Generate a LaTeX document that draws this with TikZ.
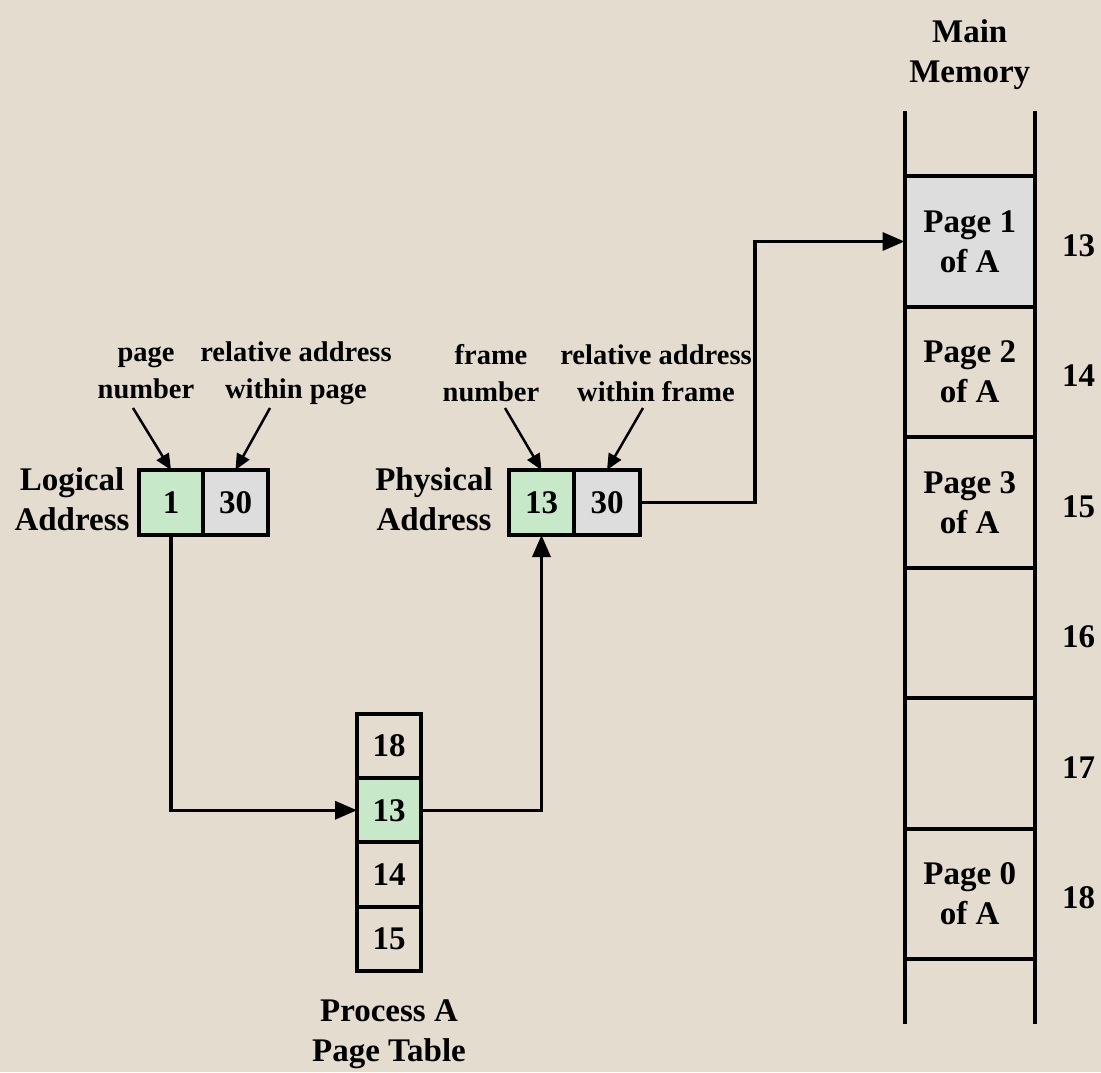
\documentclass[tikz,border=0pt]{standalone}
\usepackage{fontspec}
\setmainfont{Liberation Serif}
\usetikzlibrary{arrows.meta,positioning}
\definecolor{paper}{RGB}{228,220,206}
\definecolor{cellgreen}{RGB}{200,232,202}
\definecolor{cellgray}{RGB}{221,221,221}

\begin{document}
\begin{tikzpicture}[x=1pt, y=-1pt, font=\fontsize{33}{40}\selectfont\bfseries,
  cell/.style={draw, line width=4pt, inner sep=0pt, outer sep=0pt, minimum width=64pt, minimum height=65pt},
  ptcell/.style={draw, line width=4pt, inner sep=0pt, outer sep=0pt, minimum width=64pt, minimum height=64.25pt},
  memframe/.style={draw, line width=4pt, inner sep=0pt, outer sep=0pt, minimum width=130.5pt, minimum height=130.5pt, align=center},
  txt/.style={inner sep=0pt, align=center},
  small/.style={txt, font=\fontsize{28.5}{37}\selectfont\bfseries},
  link/.style={-{Triangle[length=22pt, width=18pt]}, line width=3.5pt},
  pointer/.style={-{Triangle[length=16pt, width=14pt]}, line width=2.5pt}]

  % Hintergrund
  \fill[paper] (0,0) rectangle (1101,1072);
  \useasboundingbox (0,0) rectangle (1101,1072);

  % Logical Address
  \node[cell, fill=cellgreen] (lpage) at (171,502.5) {1};
  \node[cell, fill=cellgray, minimum width=65pt] (loffset) at (235.5,502.5) {30};
  \node[txt] (ltitle) at (72,499) {Logical\\Address};
  \node[small] (lpagetxt) at (146,373) {page\\number};
  \node[small] (loffsettxt) at (296,373) {relative address\\within page};

  % Physical Address
  \node[cell, fill=cellgreen, minimum width=65pt] (pframe) at (541.5,502.5) {13};
  \node[cell, fill=cellgray, minimum width=66pt] (poffset) at (607,502.5) {30};
  \node[txt] (ptitle) at (434,499) {Physical\\Address};
  \node[small] (pframetxt) at (491,373) {frame\\number};
  \node[small] (poffsettxt) at (656,373) {relative address\\within frame};

  % Process A Page Table
  \node[ptcell] (pt18) at (389,746) {18};
  \node[ptcell, fill=cellgreen, below=0pt of pt18] (pt13) {13};
  \node[ptcell, below=0pt of pt13] (pt14) {14};
  \node[ptcell, below=0pt of pt14] (pt15) {15};
  \node[txt] (pttitle) at (389,1034) {Process A\\Page Table};

  % Main Memory
  \node[memframe, fill=cellgray] (mem13) at (969.75,241.5) {Page 1\\of A};
  \node[memframe, below=0pt of mem13] (mem14) {Page 2\\of A};
  \node[memframe, below=0pt of mem14] (mem15) {Page 3\\of A};
  \node[memframe, below=0pt of mem15] (mem16) {};
  \node[memframe, below=0pt of mem16] (mem17) {};
  \node[memframe, below=0pt of mem17] (mem18) {Page 0\\of A};
  \draw[line width=4pt] (mem13.north west) -- ++(0,-65) (mem13.north east) -- ++(0,-65);
  \draw[line width=4pt] (mem18.south west) -- ++(0,65) (mem18.south east) -- ++(0,65);
  \node[txt] (memtitle) at (969.75,55) {Main\\Memory};
  \foreach \f in {13,...,18}
    \node[txt, right=27pt of mem\f, yshift=-4pt] (num\f) {\f};

  % Pfeile
  \coordinate (a1) at (133,408);
  \coordinate (a2) at (270,408);
  \coordinate (a3) at (505,408);
  \coordinate (a4) at (643,408);
  \draw[pointer] (a1) -- (lpage.north);
  \draw[pointer] (a2) -- (loffset.north);
  \draw[pointer] (a3) -- (pframe.north);
  \draw[pointer] (a4) -- (poffset.north);
  \draw[link] (lpage.south) |- (pt13.west);
  \draw[link] (pt13.east) -| (pframe.south);
  \draw[link] (poffset.east) -- ++(115,0) |- (mem13.west);
\end{tikzpicture}
\end{document}
